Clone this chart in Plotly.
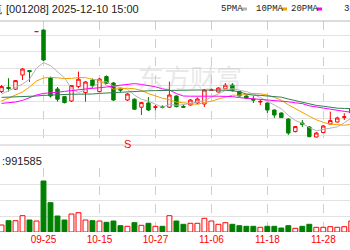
import plotly.graph_objects as go

dates = ["09-17","09-18","09-19","09-22","09-23","09-24","09-25","09-26","09-29","09-30",
         "10-09","10-10","10-13","10-14","10-15","10-16","10-17","10-20","10-21","10-22",
         "10-23","10-24","10-27","10-28","10-29","10-30","10-31","11-03","11-04","11-05",
         "11-06","11-07","11-10","11-11","11-12","11-13","11-14","11-17","11-18","11-19",
         "11-20","11-21","11-24","11-25","11-26","11-27","11-28","12-01","12-02","12-03","12-04"]

open_ = [19.02,19.23,19.14,19.85,20.07,22.02,22.10,19.70,19.15,18.77,18.55,19.27,18.97,19.60,19.02,19.77,19.45,19.15,18.60,18.64,
         18.24,18.45,18.23,18.28,18.24,18.80,18.28,18.35,18.45,18.40,19.08,19.00,19.16,19.35,19.02,18.80,18.65,18.50,18.45,18.10,
         17.95,17.65,17.02,17.45,17.25,16.75,16.97,17.40,17.50,17.73,17.95]
high = [19.35,19.69,19.60,20.20,20.10,22.02,22.12,19.77,19.25,18.80,19.35,20.02,19.55,19.68,19.70,19.83,19.50,19.23,18.94,18.68,
        18.50,18.75,18.35,18.33,19.52,18.83,18.38,18.65,18.73,19.15,19.18,19.23,19.45,19.45,19.05,18.83,18.80,18.60,18.48,18.13,
        17.98,17.68,17.30,17.60,17.30,17.00,17.35,18.02,17.77,17.94,18.30]
low = [18.95,19.02,19.10,19.60,19.50,22.02,20.55,18.72,18.52,18.43,18.50,19.19,18.52,19.20,18.98,19.40,18.55,19.00,18.55,18.10,
       17.85,18.05,18.08,18.18,18.20,18.23,18.20,18.32,18.40,18.25,19.05,18.98,19.15,19.02,18.78,18.65,18.45,18.35,17.95,17.70,
       17.70,16.85,16.98,17.25,16.73,16.73,16.95,17.38,17.48,17.60,17.90]
close = [19.27,19.18,19.57,20.15,20.02,22.02,20.60,18.80,18.64,18.47,19.32,19.64,19.50,19.32,19.65,19.44,18.60,19.10,18.90,18.14,
         18.47,18.10,18.26,18.24,18.85,18.27,18.24,18.60,18.65,19.10,19.11,19.20,19.34,19.07,18.80,18.69,18.60,18.53,18.10,17.85,
         17.72,16.95,17.27,17.38,16.77,16.95,17.30,17.57,17.70,17.76,18.15]

ma5 = [18.90,19.05,19.23,19.40,19.64,20.19,20.47,20.32,20.02,19.71,19.17,18.97,19.11,19.25,19.49,19.51,19.30,19.22,19.14,18.84,
       18.64,18.54,18.37,18.24,18.38,18.34,18.37,18.44,18.52,18.57,18.74,18.93,19.08,19.16,19.10,19.02,18.90,18.74,18.54,18.35,
       18.16,17.83,17.58,17.43,17.22,17.06,17.13,17.19,17.26,17.46,17.70]
ma10 = [18.55,18.70,18.85,19.00,19.25,19.55,19.70,19.73,19.71,19.67,19.68,19.72,19.72,19.63,19.60,19.34,19.14,19.17,19.19,19.16,
        19.08,18.92,18.80,18.69,18.61,18.49,18.46,18.41,18.38,18.48,18.54,18.65,18.76,18.84,18.84,18.88,18.92,18.91,18.85,18.73,
        18.59,18.36,18.16,17.99,17.79,17.61,17.48,17.39,17.35,17.34,17.38]
ma20 = [18.43,18.45,18.50,18.58,18.70,18.85,18.93,18.95,18.99,19.03,19.08,19.11,19.15,19.18,19.20,19.25,19.30,19.35,19.39,19.42,
        19.38,19.32,19.26,19.16,19.10,18.92,18.80,18.79,18.79,18.82,18.81,18.79,18.78,18.77,18.72,18.69,18.69,18.66,18.62,18.60,
        18.57,18.51,18.46,18.42,18.31,18.25,18.20,18.15,18.10,18.03,17.99]
ma30 = [18.73,18.74,18.75,18.76,18.78,18.80,18.83,18.85,18.88,18.89,18.89,18.89,18.89,18.90,18.93,18.95,18.98,19.00,19.03,19.04,
        19.05,19.06,19.07,19.08,19.08,19.09,19.09,19.10,19.10,19.10,19.10,19.10,19.09,19.06,19.01,18.90,18.84,18.83,18.81,18.79,
        18.74,18.65,18.57,18.51,18.41,18.33,18.29,18.23,18.19,18.18,18.17]

volume = [70000,113000,113000,163000,120000,110000,510000,293000,160000,120000,180000,193000,120000,113000,110000,97000,110000,63000,57000,93000,
          67000,87000,57000,57000,163000,110000,77000,87000,87000,137000,110000,77000,93000,77000,63000,57000,57000,47000,57000,57000,
          40000,63000,37000,57000,77000,47000,47000,53000,47000,53000,110000]

tick_dates = ["09-25","10-15","10-27","11-06","11-18","11-28"]
title_name = "华菱线缆"
title_rest = "[001208] 2025-12-10 15:00"
ma_names = ["5PMA","10PMA","20PMA","30PMA"]
vol_label = ":991585"
signal_date = "10-21"
signal_text = "S"

RED = "#ff0000"
GREEN = "#008000"
MA_COLORS = ["#b4b4b4", "#f5a000", "#ff00ff", "#2f7f4f"]

W, H = 350, 250
def py(p):
    return 1 - p / H
def px(p):
    return p / W

fig = go.Figure()
fig.add_trace(go.Candlestick(
    x=dates, open=open_, high=high, low=low, close=close,
    increasing=dict(line=dict(color=RED, width=1), fillcolor="#ffffff"),
    decreasing=dict(line=dict(color=GREEN, width=1), fillcolor=GREEN),
    whiskerwidth=0, showlegend=False, hoverinfo="skip", xaxis="x", yaxis="y"))

for ma, col in zip([ma5, ma10, ma20, ma30], MA_COLORS):
    fig.add_trace(go.Scatter(x=dates, y=ma, mode="lines", line=dict(color=col, width=1),
                             showlegend=False, hoverinfo="skip", xaxis="x", yaxis="y"))

up = [c >= o for o, c in zip(open_, close)]
fig.add_trace(go.Bar(
    x=dates, y=volume, width=0.7, xaxis="x2", yaxis="y2",
    marker=dict(color=["#ffffff" if u else GREEN for u in up],
                line=dict(color=[RED if u else GREEN for u in up], width=1)),
    showlegend=False, hoverinfo="skip"))

xr = [-0.219, 49.817]
grid = "#e2e2e2"
common_x = dict(type="category", categoryorder="array", categoryarray=dates, range=xr,
                tickvals=tick_dates, showgrid=True, gridcolor="#cfcfcf", griddash="dash",
                gridwidth=1, zeroline=False, showline=False, ticks="", fixedrange=True)
p_lo, p_hi = 16.35, 22.55
p_grid = [16.85 + i * (5.0 / 6) for i in range(7)]
fig.update_layout(
    width=W, height=H, margin=dict(l=0, r=0, t=0, b=0),
    paper_bgcolor="white", plot_bgcolor="white", bargap=0.3,
    xaxis=dict(common_x, anchor="y", showticklabels=False, rangeslider=dict(visible=False)),
    yaxis=dict(domain=[py(145), py(21)], range=[p_lo, p_hi], tickvals=p_grid,
               showticklabels=False, gridcolor=grid, zeroline=False, showline=False),
    xaxis2=dict(common_x, anchor="y2", showticklabels=True, ticktext=tick_dates,
                tickfont=dict(family="Liberation Sans", size=10, color=RED)),
    yaxis2=dict(domain=[py(232), py(168)], range=[0, 640000],
                tickvals=[160000, 320000, 480000, 640000], showticklabels=False,
                gridcolor=grid, zeroline=False, showline=False),
)

shapes = [
    dict(type="line", xref="paper", yref="paper", x0=0, x1=1, y0=py(21), y1=py(21),
         line=dict(color="#b8b8b8", width=1)),
    dict(type="line", xref="paper", yref="paper", x0=0, x1=1, y0=py(145), y1=py(145),
         line=dict(color="#c8c8c8", width=1)),
]
# legend swatches
for xs, col in zip([242, 282, 317], MA_COLORS[:3]):
    shapes.append(dict(type="line", xref="paper", yref="paper", x0=px(xs), x1=px(xs + 5),
                       y0=py(9), y1=py(9), line=dict(color=col, width=3)))
fig.update_layout(shapes=shapes)

font_txt = dict(family="Liberation Sans", size=11, color="#222222")
ann = [
    dict(x=px(4), y=py(8.5), text=title_name, xanchor="right", yanchor="middle", font=font_txt),
    dict(x=px(4), y=py(8.5), text=title_rest, xanchor="left", yanchor="middle", font=font_txt),
    dict(x=px(0), y=py(160.5), text=vol_label, xanchor="left", yanchor="middle", font=font_txt),
]
for xs, t in zip([219, 254, 289, 342], ma_names):
    ann.append(dict(x=px(xs), y=py(8.5), text=t, xanchor="left", yanchor="middle",
                    font=dict(family="Liberation Mono", size=9, color="#222222")))
ann.append(dict(x=px(190), y=py(76), text="东方财富", xanchor="center", yanchor="middle",
                font=dict(family="Noto Sans CJK SC", size=26, color="rgba(190,190,190,0.35)")))
ann.append(dict(x=signal_date, xref="x", y=py(144), yref="paper", text=signal_text,
                xanchor="center", yanchor="middle", font=dict(family="Liberation Sans", size=11, color=RED)))
for a in ann:
    a.setdefault("xref", "paper")
    a.setdefault("yref", "paper")
    a["showarrow"] = False
fig.update_layout(annotations=ann)

fig.write_html("out.html", include_plotlyjs=True, config={"displayModeBar": False})
